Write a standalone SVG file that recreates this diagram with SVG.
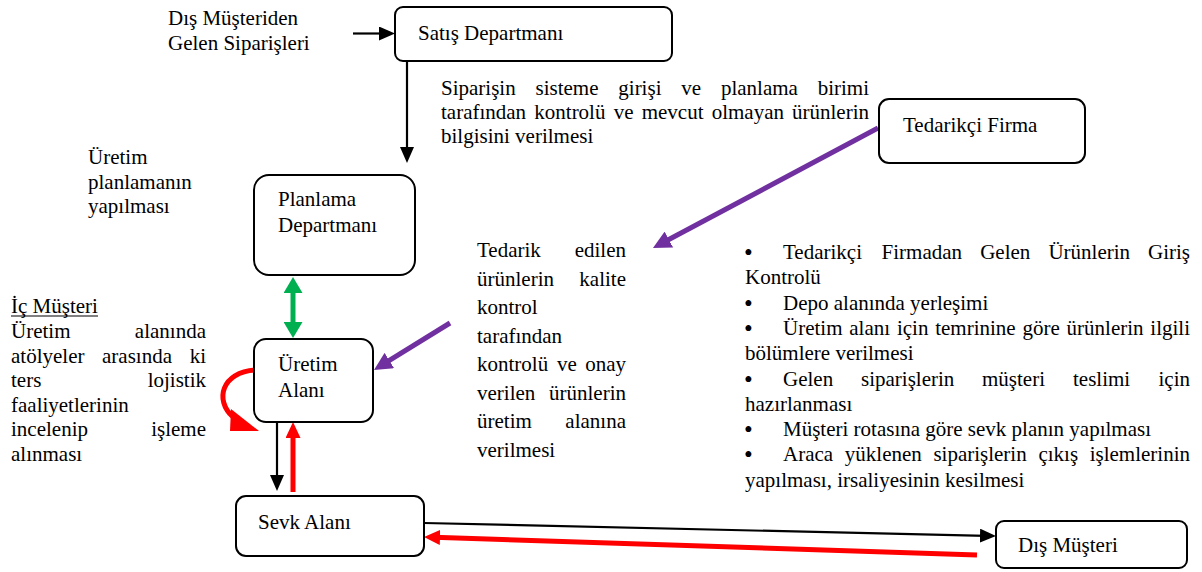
<svg xmlns="http://www.w3.org/2000/svg" width="1202" height="572" viewBox="0 0 1202 572" font-family="Liberation Serif, Times New Roman, serif" font-size="21">
  <style>
    text { font-family: "Liberation Serif", "Times New Roman", serif; font-size: 21px; fill: #000; }
    .box { fill: #fff; stroke: #000; stroke-width: 2; }
    .end { text-anchor: end; }
    .bul { font-size: 25px; }
    .blk { stroke: #000; stroke-width: 2.2; fill: none; }
    .red { stroke: #ff0000; stroke-width: 5; fill: none; }
    .grn { stroke: #00b050; stroke-width: 5; fill: none; }
    .pur { stroke: #7030a0; stroke-width: 5; fill: none; }
  </style>
  <defs>
    <marker id="hBlack" markerUnits="userSpaceOnUse" markerWidth="16" markerHeight="14" refX="6" refY="7" orient="auto">
      <path d="M0,0 L16,7 L0,14 z" fill="#000"/>
    </marker>
    <marker id="hRed" markerUnits="userSpaceOnUse" markerWidth="16" markerHeight="15" refX="6" refY="7.5" orient="auto">
      <path d="M0,0 L16,7.5 L0,15 z" fill="#ff0000"/>
    </marker>
    <marker id="hGreen" markerUnits="userSpaceOnUse" markerWidth="16" markerHeight="19" refX="6" refY="9.5" orient="auto-start-reverse">
      <path d="M0,0 L16,9.5 L0,19 z" fill="#00b050"/>
    </marker>
    <marker id="hPurple" markerUnits="userSpaceOnUse" markerWidth="18" markerHeight="18" refX="8" refY="9" orient="auto">
      <path d="M0,0 L18,9 L0,18 z" fill="#7030a0"/>
    </marker>
  </defs>

  <rect width="1202" height="572" fill="#fff"/>

  <!-- connectors -->
  <g id="connectors">
    <line class="blk" x1="353" y1="33.5" x2="385" y2="33.5" marker-end="url(#hBlack)"/>
    <line class="blk" x1="407" y1="61" x2="407" y2="153" marker-end="url(#hBlack)"/>
    <line class="grn" x1="293" y1="287" x2="293" y2="328" marker-start="url(#hGreen)" marker-end="url(#hGreen)"/>
    <line class="pur" x1="878" y1="128" x2="661.8" y2="243.3" marker-end="url(#hPurple)"/>
    <line class="pur" x1="450" y1="323" x2="382.5" y2="364.7" marker-end="url(#hPurple)"/>
    <path class="red" d="M255,370 C222,372 214,400 233,417"/>
    <polygon points="231,409 230,431 259,431" fill="#ff0000"/>
    <line class="blk" x1="277" y1="422" x2="277" y2="481" marker-end="url(#hBlack)"/>
    <line class="red" x1="293" y1="492" x2="293" y2="432" marker-end="url(#hRed)"/>
    <line class="blk" x1="424" y1="523" x2="986" y2="535.8" marker-end="url(#hBlack)"/>
    <line class="red" x1="977" y1="555" x2="434" y2="537.3" marker-end="url(#hRed)"/>
  </g>

  <!-- nodes -->
  <g id="satis">
    <rect class="box" x="395" y="7" width="277" height="54" rx="8"/>
    <text x="418" y="40">Satış Departmanı</text>
  </g>
  <g id="planlama">
    <rect class="box" x="254" y="175" width="161" height="100" rx="15"/>
    <text x="278" y="206">Planlama</text>
    <text x="278" y="232">Departmanı</text>
  </g>
  <g id="uretim">
    <rect class="box" x="254" y="339" width="119" height="83" rx="12"/>
    <text x="278" y="371">Üretim</text>
    <text x="278" y="397">Alanı</text>
  </g>
  <g id="sevk">
    <rect class="box" x="236" y="496" width="188" height="60" rx="10"/>
    <text x="258" y="529">Sevk Alanı</text>
  </g>
  <g id="tedarikci">
    <rect class="box" x="879" y="99" width="206" height="64" rx="10"/>
    <text x="903" y="132">Tedarikçi Firma</text>
  </g>
  <g id="dis-musteri">
    <rect class="box" x="996" y="521" width="191" height="47" rx="8"/>
    <text x="1018" y="552">Dış Müşteri</text>
  </g>

  <!-- annotations -->
  <g id="siparis-girdi">
    <text x="168" y="25">Dış Müşteriden</text>
    <text x="168" y="49.5">Gelen Siparişleri</text>
  </g>
  <g id="siparis-aciklama">
    <text y="95"><tspan x="441">Siparişin</tspan><tspan x="535.5">sisteme</tspan><tspan x="618.3">girişi</tspan><tspan x="681.3">ve</tspan><tspan x="720.9">planlama</tspan></text>
    <text y="95" x="869" class="end">birimi</text>
    <text y="119"><tspan x="441">tarafından</tspan><tspan x="534.3">kontrolü</tspan><tspan x="613.7">ve</tspan><tspan x="641.7">mevcut</tspan><tspan x="711.7">olmayan</tspan></text>
    <text y="119" x="869" class="end">ürünlerin</text>
    <text x="441" y="143">bilgisini verilmesi</text>
  </g>
  <g id="planlama-notu">
    <text x="88" y="164">Üretim</text>
    <text x="88" y="188.5">planlamanın</text>
    <text x="88" y="213">yapılması</text>
  </g>
  <g id="ic-musteri">
    <text x="11" y="313">İç Müşteri</text>
    <line x1="11" y1="316" x2="98" y2="316" stroke="#000" stroke-width="1.2"/>
    <text x="11" y="338">Üretim</text><text x="206" y="338" class="end">alanında</text>
    <text y="362.5"><tspan x="11">atölyeler</tspan><tspan x="102">arasında</tspan></text><text x="206" y="362.5" class="end">ki</text>
    <text x="11" y="387">ters</text><text x="206" y="387" class="end">lojistik</text>
    <text x="11" y="411.5">faaliyetlerinin</text>
    <text x="11" y="436">incelenip</text><text x="206" y="436" class="end">işleme</text>
    <text x="11" y="460.5">alınması</text>
  </g>
  <g id="kalite-kontrol">
    <text x="477" y="257">Tedarik</text><text x="626" y="257" class="end">edilen</text>
    <text x="477" y="285.5">ürünlerin</text><text x="626" y="285.5" class="end">kalite</text>
    <text x="477" y="314">kontrol</text>
    <text x="477" y="342.5">tarafından</text>
    <text y="371"><tspan x="477">kontrolü</tspan><tspan x="557">ve</tspan></text><text x="626" y="371" class="end">onay</text>
    <text x="477" y="399.5">verilen</text><text x="626" y="399.5" class="end">ürünlerin</text>
    <text x="477" y="428">üretim</text><text x="626" y="428" class="end">alanına</text>
    <text x="477" y="456.5">verilmesi</text>
  </g>
  <g id="depo-listesi">
    <text class="bul" x="744" y="261">•</text>
    <text y="259"><tspan x="783">Tedarikçi</tspan><tspan x="881.6">Firmadan</tspan><tspan x="980.2">Gelen</tspan><tspan x="1048.4">Ürünlerin</tspan></text>
    <text x="1190" y="259" class="end">Giriş</text>
    <text x="745" y="284.3">Kontrolü</text>
    <text class="bul" x="744" y="311.6">•</text>
    <text x="783" y="309.6">Depo alanında yerleşimi</text>
    <text class="bul" x="744" y="336.9">•</text>
    <text y="334.9"><tspan x="783">Üretim</tspan><tspan x="849.3">alanı</tspan><tspan x="896.9">için</tspan><tspan x="935.2">temrinine</tspan><tspan x="1022.5">göre</tspan><tspan x="1066.6">ürünlerin</tspan></text>
    <text x="1190" y="334.9" class="end">ilgili</text>
    <text x="745" y="360.2">bölümlere verilmesi</text>
    <text class="bul" x="744" y="387.5">•</text>
    <text y="385.5"><tspan x="783">Gelen</tspan><tspan x="861">siparişlerin</tspan><tspan x="982">müşteri</tspan><tspan x="1073">teslimi</tspan></text>
    <text x="1190" y="385.5" class="end">için</text>
    <text x="745" y="410.8">hazırlanması</text>
    <text class="bul" x="744" y="438.1">•</text>
    <text x="783" y="436.1">Müşteri rotasına göre sevk planın yapılması</text>
    <text class="bul" x="744" y="463.4">•</text>
    <text y="461.4"><tspan x="783">Araca</tspan><tspan x="844.8">yüklenen</tspan><tspan x="933.4">siparişlerin</tspan><tspan x="1038.4">çıkış</tspan></text>
    <text x="1190" y="461.4" class="end">işlemlerinin</text>
    <text x="745" y="486.7">yapılması, irsaliyesinin kesilmesi</text>
  </g>
</svg>
